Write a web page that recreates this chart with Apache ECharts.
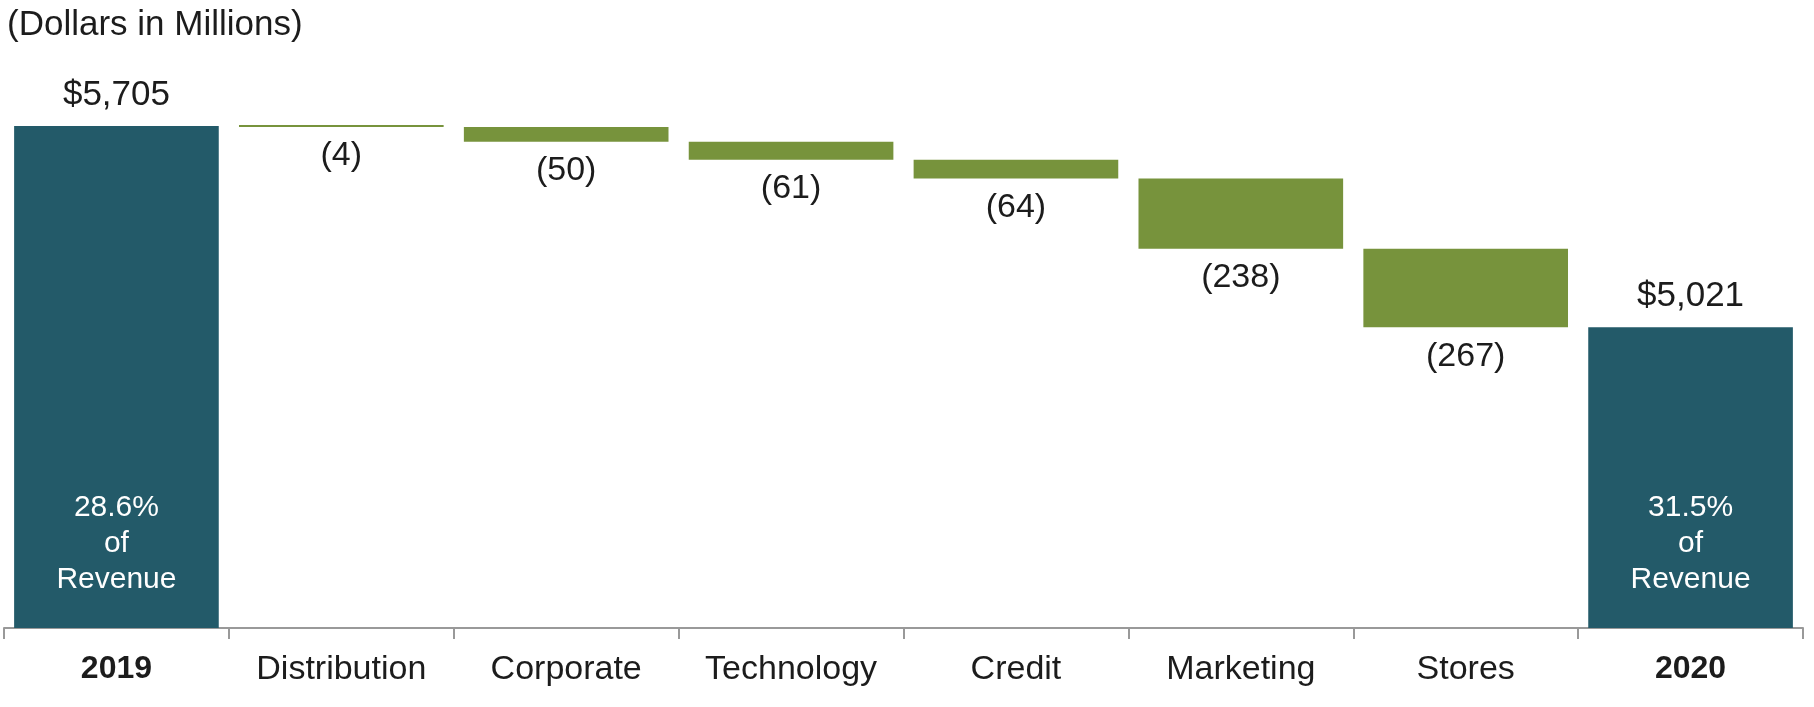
<!DOCTYPE html>
<html>
<head>
<meta charset="utf-8">
<script src="https://cdn.jsdelivr.net/npm/echarts@6/dist/echarts.min.js"></script>
<style>
  html, body { margin: 0; padding: 0; background: #fff; }
  #chart { width: 1814px; height: 707px; }
</style>
</head>
<body>
<div id="chart"></div>
<script>
// ---- data ----
const categories = ['2019', 'Distribution', 'Corporate', 'Technology', 'Credit', 'Marketing', 'Stores', '2020'];
const startTotal = 5705;
const endTotal = 5021;
const changes = [-4, -50, -61, -64, -238, -267];
const revenueShare = ['28.6%', '31.5%'];
const titleText = '(Dollars in Millions)';

// ---- derived series ----
const AXIS_MIN = 4000, AXIS_MAX = 6000;
const n = categories.length;
const baseData = [], changeData = [], totalData = [], topLabelData = [];
let running = startTotal;
for (let i = 0; i < n; i++) {
  if (i === 0 || i === n - 1) {
    const t = i === 0 ? startTotal : endTotal;
    baseData.push(AXIS_MIN);
    changeData.push('-');
    totalData.push(t - AXIS_MIN);
    topLabelData.push(t);
  } else {
    const c = changes[i - 1];
    const after = running + c;
    baseData.push(Math.min(running, after));
    changeData.push(Math.abs(c));
    totalData.push('-');
    topLabelData.push('-');
    running = after;
  }
}

const FONT = "'Liberation Sans', Arial, sans-serif";
const TEXT = '#1c1c1c';
const TEAL = '#235a69';
const GREEN = '#77933c';
const BW = '91%';

const chart = echarts.init(document.getElementById('chart'), null, { renderer: 'canvas' });
chart.setOption({
  animation: false,
  title: {
    text: titleText,
    left: 2, top: 3,
    textStyle: { fontFamily: FONT, fontSize: 35, fontWeight: 'normal', color: TEXT }
  },
  grid: { left: 4, right: 11, top: 39, bottom: 79 },
  xAxis: {
    type: 'category',
    data: categories,
    axisLine: { lineStyle: { color: '#999', width: 2 } },
    axisTick: { show: true, length: 11, lineStyle: { color: '#999', width: 2 } },
    axisLabel: {
      interval: 0,
      margin: 25,
      fontFamily: FONT,
      fontSize: 34,
      color: TEXT,
      formatter: v => /^\d{4}$/.test(v) ? '{b|' + v + '}' : v,
      rich: { b: { fontFamily: FONT, fontSize: 32, fontWeight: 'bold', color: TEXT } }
    }
  },
  yAxis: { type: 'value', min: AXIS_MIN, max: AXIS_MAX, show: false, splitLine: { show: false } },
  series: [
    {
      name: 'base', type: 'bar', stack: 'w', barWidth: BW, silent: true,
      itemStyle: { color: 'transparent' },
      data: baseData
    },
    {
      name: 'change', type: 'bar', stack: 'w', barWidth: BW, barMinHeight: 2,
      itemStyle: { color: GREEN },
      label: {
        show: true, position: 'bottom', distance: 12,
        fontFamily: FONT, fontSize: 34, color: TEXT,
        formatter: p => '(' + Math.abs(changes[p.dataIndex - 1]) + ')'
      },
      data: changeData
    },
    {
      name: 'total', type: 'bar', stack: 'w', barWidth: BW,
      itemStyle: { color: TEAL },
      label: {
        show: true, position: 'insideBottom', distance: 30,
        fontFamily: FONT, fontSize: 30, lineHeight: 36, color: '#ffffff', align: 'center',
        formatter: p => (p.dataIndex === 0 ? revenueShare[0] : revenueShare[1]) + '\nof\nRevenue'
      },
      data: totalData
    },
    {
      name: 'totalLabel', type: 'scatter', symbolSize: 0, silent: true,
      itemStyle: { opacity: 1 },
      label: {
        show: true, position: 'top', distance: 13, opacity: 1,
        fontFamily: FONT, fontSize: 35, color: TEXT,
        formatter: p => '$' + p.value.toLocaleString('en-US')
      },
      data: topLabelData
    }
  ]
});
</script>
</body>
</html>
